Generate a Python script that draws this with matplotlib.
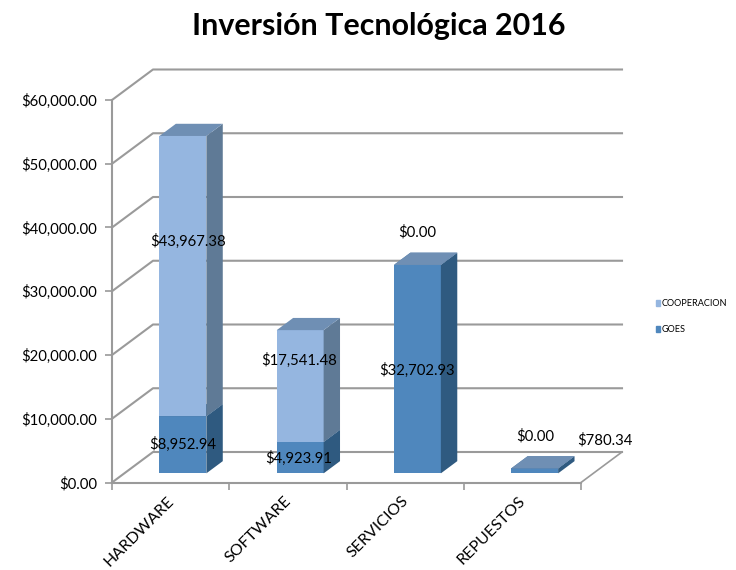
import matplotlib
matplotlib.use('Agg')
import matplotlib.pyplot as plt
from matplotlib.patches import Polygon, Patch
from matplotlib.transforms import ScaledTranslation

plt.rcParams['font.family'] = ['Lato', 'DejaVu Sans']

categories = ['HARDWARE', 'SOFTWARE', 'SERVICIOS', 'REPUESTOS']
goes = [8952.94, 4923.91, 32702.93, 780.34]
cooperacion = [43967.38, 17541.48, 0.0, 0.0]
yticks = [0, 10000, 20000, 30000, 40000, 50000, 60000]

# pixel offsets of the value labels from the middle of each segment
goes_off = [(0, 0), (-2, -1), (0, -1), (70, 31)]
coop_off = [(5, 35), (-1, 26), (0, 33), (1, 32)]

W, H = 736, 570
grid_c = '#9a9a9a'
light = ('#95b6e0', '#5f7a96', '#6f8fb4')
dark = ('#4f87bd', '#2f5a80', '#4f7aa5')

fig = plt.figure(figsize=(W/100, H/100), dpi=100)
ax = fig.add_axes([112/W, 1-482.5/H, (581-112)/W, (482.5-100)/H])
ax.set_xlim(0, 4)
ax.set_ylim(0, 60000)

# size of the 3d depth in data units
dx = 41/(469/4)
dy = 30.5/(382.5/60000)

for s in ['top', 'right']:
    ax.spines[s].set_visible(False)
for s in ['left', 'bottom']:
    ax.spines[s].set_color(grid_c)
    ax.spines[s].set_linewidth(1.5)
    ax.spines[s].set_zorder(1)

# gridlines on the two walls
for v in yticks:
    ax.plot([0, dx, 4+dx], [v, v+dy, v+dy], color=grid_c, lw=1.5, clip_on=False, zorder=1)
ax.plot([4, 4+dx], [0, dy], color=grid_c, lw=1.2, clip_on=False, zorder=1)


def box(x, y0, y1, colors):
    # front, side and top of one 3d bar segment
    w = 0.4
    f = 0.3
    d = 0.4
    xl = x-w/2+dx*f
    xr = x+w/2+dx*f
    b0 = y0+dy*f
    b1 = y1+dy*f
    ex = dx*d
    ey = dy*d
    ax.add_patch(Polygon([(xl, b0), (xr, b0), (xr, b1), (xl, b1)], fc=colors[0], ec='none', clip_on=False, zorder=3))
    ax.add_patch(Polygon([(xr, b0), (xr+ex, b0+ey), (xr+ex, b1+ey), (xr, b1)], fc=colors[1], ec='none', clip_on=False, zorder=3))
    ax.add_patch(Polygon([(xl, b1), (xr, b1), (xr+ex, b1+ey), (xl+ex, b1+ey)], fc=colors[2], ec='none', clip_on=False, zorder=3))


for i in range(len(categories)):
    x = i+0.5
    box(x, 0, goes[i], dark)
    box(x, goes[i], goes[i]+cooperacion[i], light)

# value labels
for i in range(len(categories)):
    x = i+0.5+dx*0.3
    mid1 = goes[i]/2+dy*0.3
    mid2 = goes[i]+cooperacion[i]/2+dy*0.3
    ax.annotate('${:,.2f}'.format(goes[i]), (x, mid1), xytext=goes_off[i], textcoords='offset pixels',
                ha='center', va='center', fontsize=10.7, color='black', zorder=5, annotation_clip=False)
    ax.annotate('${:,.2f}'.format(cooperacion[i]), (x, mid2), xytext=coop_off[i], textcoords='offset pixels',
                ha='center', va='center', fontsize=10.7, color='black', zorder=5, annotation_clip=False)

ax.set_yticks(yticks)
ax.set_yticklabels(['${:,.2f}'.format(v) for v in yticks], fontsize=10.7)
ax.set_xticks([0, 1, 2, 3, 4])
ax.set_xticklabels([])
ax.set_xticks([0.5, 1.5, 2.5, 3.5], minor=True)
ax.set_xticklabels(categories, minor=True, rotation=45, ha='right', rotation_mode='anchor', fontsize=11.5)
ax.tick_params(axis='both', which='major', color=grid_c, width=1.2, length=5)
ax.tick_params(axis='x', which='minor', length=0, pad=8)
ax.tick_params(axis='y', pad=6)
# category labels sit a bit left of the slot middle
shift = ScaledTranslation(-3/72, 0, fig.dpi_scale_trans)
for lab in ax.get_xticklabels(minor=True):
    lab.set_transform(lab.get_transform()+shift)

handles = [Patch(color=light[0], label='COOPERACION'), Patch(color=dark[0], label='GOES')]
fig.legend(handles=handles, loc='upper left', bbox_to_anchor=(656/W, 1-299.5/H), frameon=False,
           fontsize=6.6, handlelength=0.45, handleheight=0.6, handletextpad=0.2, labelspacing=1.85,
           borderpad=0, borderaxespad=0)

fig.text(378.5/W, 1-26/H, 'Inversión Tecnológica 2016', ha='center', va='center', fontsize=21.9, fontweight='bold')

fig.savefig('out.png', dpi=100, facecolor='white')
